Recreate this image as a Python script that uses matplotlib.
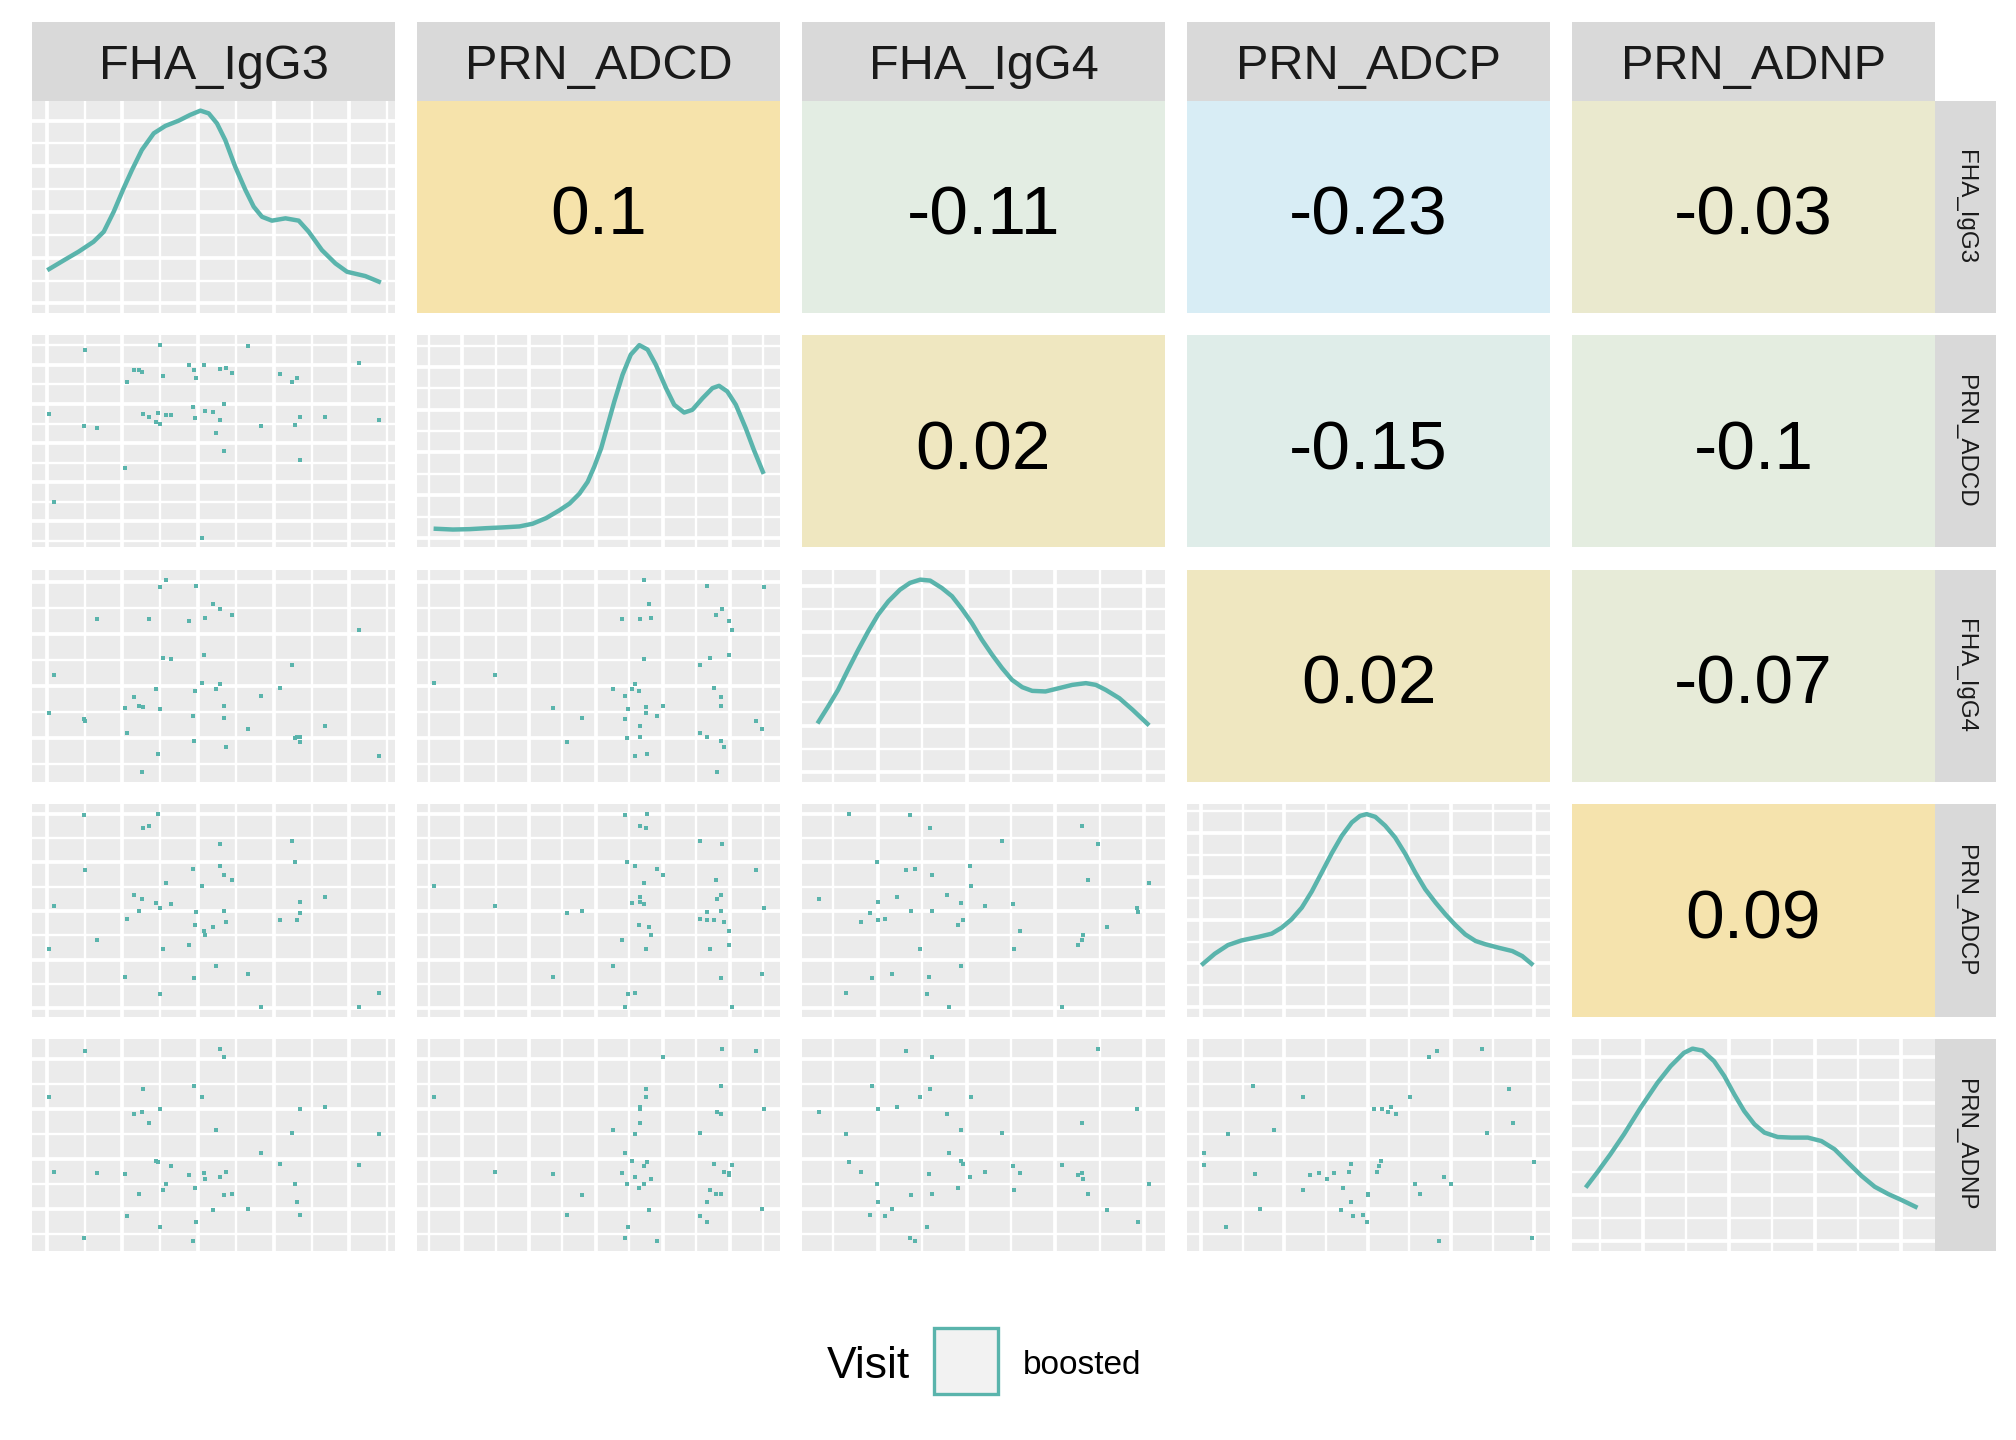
import numpy as np
import matplotlib
matplotlib.use("Agg")
import matplotlib.pyplot as plt
from matplotlib.colors import LinearSegmentedColormap, Normalize
from matplotlib.patches import Rectangle

plt.rcParams['font.family'] = ['Liberation Sans', 'DejaVu Sans']

variables = ['FHA_IgG3', 'PRN_ADCD', 'FHA_IgG4', 'PRN_ADCP', 'PRN_ADNP']

# sample values (rescaled units)
fha_igg3 = [0.0, 1.8, 10.6, 10.9, 14.8, 23.0, 23.6, 25.7, 27.2, 28.2, 28.4, 30.5,
            32.4, 33.0, 33.6, 33.6, 34.5, 35.4, 36.9, 42.3, 43.8, 44.1, 44.4, 44.7,
            46.3, 46.9, 47.2, 49.6, 50.5, 51.7, 51.7, 52.9, 52.9, 53.5, 55.3, 60.3,
            64.1, 69.8, 73.7, 74.4, 75.0, 75.9, 75.9, 83.4, 93.7, 99.7]
prn_adcd = [64.2, 18.5, 58.0, 97.7, 56.9, 36.2, 80.8, 87.0, 87.0, 86.0, 64.2, 62.6,
            60.0, 64.7, 100.0, 59.0, 83.9, 63.7, 63.7, 89.6, 67.8, 87.0, 62.1, 82.9,
            -0.2, 89.6, 65.7, 65.2, 54.3, 87.5, 61.1, 69.4, 45.0, 88.1, 85.5, 99.5,
            58.0, 84.9, 80.8, 58.5, 82.9, 62.6, 40.3, 62.6, 90.5, 61.1]
fha_igg4 = [31.0, 50.7, 27.9, 26.8, 79.8, 33.6, 20.6, 39.3, 34.6, 0.4, 34.1, 79.8,
            43.4, 9.7, 96.4, 33.1, 59.5, 100.0, 59.0, 78.7, 29.4, 16.4, 42.4, 96.9,
            46.5, 61.1, 80.3, 87.5, 43.4, 84.9, 46.0, 34.6, 28.4, 13.3, 81.8, 22.7,
            39.8, 43.9, 55.9, 18.0, 18.5, 18.5, 15.9, 24.2, 74.0, 8.7]
prn_adcp = [30.6, 52.9, 99.6, 71.1, 35.3, 16.1, 45.7, 58.6, 50.3, 56.1, 92.9, 93.9,
            54.0, 100.2, 51.9, 7.3, 30.6, 64.4, 53.5, 32.7, 71.6, 15.6, 42.6, 49.8,
            62.8, 40.0, 37.9, 42.0, 21.8, 84.6, 73.2, 68.5, 50.3, 44.6, 65.9, 17.7,
            0.5, 45.2, 86.1, 75.3, 45.2, 54.5, 48.8, 57.1, 0.5, 7.8]
prn_adnp = [75.6, 36.7, 2.4, 99.5, 36.2, 35.6, 13.9, 66.8, 25.3, 67.8, 79.8, 62.1,
            42.4, 41.9, 69.4, 8.1, 27.3, 30.5, 39.8, 35.1, 0.9, 81.3, 28.4, 10.7,
            75.6, 36.2, 33.1, 17.0, 58.5, 100.5, 34.1, 96.4, 24.7, 36.7, 25.3, 17.5,
            46.5, 40.8, 56.9, 30.5, 21.1, 69.4, 14.4, 70.4, 40.3, 56.4]
data = [fha_igg3, prn_adcd, fha_igg4, prn_adcp, prn_adnp]

# density curves on the diagonal (x in variable units, y relative to the peak)
dens1_x = [0.2, 5.1, 9.1, 13.6, 16.7, 19.7, 22.7, 25.2, 28.2, 31.8, 35.3, 39.3, 42.8, 45.9, 48.4,
           50.9, 53.4, 56.4, 59.5, 62.0, 64.5, 67.5, 71.6, 75.6, 78.6, 82.6, 86.7, 90.2, 95.7, 99.8]
dens1_y = [17.7, 22.7, 26.7, 31.8, 37.0, 47.3, 59.4, 68.8, 79.2, 87.8, 91.6, 94.3, 97.3, 99.5, 98.1,
           92.9, 84.3, 70.6, 58.5, 49.9, 44.7, 42.7, 43.9, 42.7, 37.0, 27.5, 20.6, 16.3, 14.1, 11.2]
dens2_x = [0.5, 5.7, 10.8, 15.8, 20.9, 25.9, 29.9, 34.0, 38.0, 41.1, 44.1, 46.6, 48.6, 50.7, 52.7, 54.7, 57.2,
           59.7, 62.3, 64.8, 67.3, 70.4, 72.9, 75.9, 78.4, 81.5, 84.5, 86.5, 89.0, 91.6, 94.6, 97.1, 99.8]
dens2_y = [4.7, 4.3, 4.5, 5.0, 5.4, 5.9, 7.3, 10.2, 14.2, 17.7, 22.8, 28.9, 36.7, 46.2, 58.3, 70.4, 84.2,
           94.6, 99.5, 97.2, 89.4, 77.3, 68.7, 64.7, 66.1, 72.1, 77.3, 78.5, 75.6, 68.7, 56.6, 45.3, 34.1]
dens3_x = [0.45, 3.3, 6.3, 9.3, 12.4, 15.4, 18.4, 21.5, 25.0, 28.0, 31.1, 34.1, 37.6, 40.7, 43.7, 46.7,
           49.7, 52.8, 55.8, 58.8, 61.9, 64.9, 68.9, 73.0, 77.0, 81.1, 84.1, 87.1, 91.2, 95.2, 99.7]
dens3_y = [26.3, 34.1, 42.7, 53.1, 63.5, 73.0, 81.7, 88.6, 94.6, 98.1, 99.8, 99.3, 95.5, 91.2, 84.6, 77.3,
           68.7, 60.9, 54.0, 47.9, 44.1, 42.2, 41.9, 43.6, 45.3, 46.2, 45.3, 42.7, 38.4, 32.4, 25.1]
dens4_x = [0.35, 3.9, 7.9, 12.0, 17.0, 21.1, 24.1, 27.1, 30.2, 33.2, 36.2, 39.2, 42.3, 45.3, 47.8, 49.8,
           52.4, 55.4, 58.4, 61.5, 64.5, 67.5, 70.6, 73.6, 76.6, 79.6, 82.7, 85.7, 89.7, 93.8, 96.8, 99.6]
dens4_y = [22.3, 27.5, 32.0, 34.4, 36.2, 37.9, 41.0, 45.3, 51.4, 59.7, 69.5, 79.4, 88.6, 95.5, 98.9, 99.8,
           98.4, 93.8, 87.7, 79.1, 69.5, 60.9, 54.0, 47.9, 42.4, 37.5, 34.1, 32.4, 30.6, 28.9, 26.3, 22.3]
dens5_x = [0.45, 3.5, 7.5, 11.6, 16.6, 21.7, 25.7, 29.7, 32.3, 35.3, 38.8, 41.9, 44.9, 47.9, 51.0, 54.0,
           58.0, 62.1, 67.1, 71.2, 75.2, 79.2, 83.3, 87.3, 91.4, 95.4, 99.6]
dens5_y = [28.9, 35.8, 45.3, 55.7, 69.5, 82.5, 91.2, 98.1, 100.3, 99.3, 93.8, 86.0, 76.5, 67.8, 60.9, 56.6,
           54.3, 54.0, 54.0, 52.2, 47.9, 41.0, 34.1, 28.4, 24.6, 21.5, 18.0]
dens_x = [dens1_x, dens2_x, dens3_x, dens4_x, dens5_x]
dens_y = [dens1_y, dens2_y, dens3_y, dens4_y, dens5_y]

# correlations shown in the upper triangle
corr_pairs = [(0, 1), (0, 2), (0, 3), (0, 4), (1, 2), (1, 3), (1, 4), (2, 3), (2, 4), (3, 4)]
corr_values = [0.1, -0.11, -0.23, -0.03, 0.02, -0.15, -0.1, 0.02, -0.07, 0.09]

legend_title = 'Visit'
legend_label = 'boosted'

# grid layout (major break start/step per variable, and for each density axis)
var_grid = [(-0.5, 22.85), (8.5, 20.3), (18.3, 26.8), (-0.3, 25.2), (17.4, 25.9)]
dens_grid = [23.6, 22.05, 24.15, 22.5, 24.0]

teal = '#5AB4AC'
panel_bg = '#EBEBEB'
strip_bg = '#D9D9D9'
cmap = LinearSegmentedColormap.from_list(
    'corr', [(0.0, '#D8EDF5'), (0.3636, '#E3EDE3'), (1.0, '#F6E3AB')])
norm = Normalize(vmin=-0.23, vmax=0.1)

W, H = 2016, 1440
fig = plt.figure(figsize=(W / 200, H / 200), dpi=200)


def box(x, y, w, h):
    return [x / W, 1 - (y + h) / H, w / W, h / H]


def limits(vals):
    lo, hi = min(vals), max(vals)
    pad = 0.05 * (hi - lo)
    return lo - pad, hi + pad


def ticks(lo, hi, start, step):
    k = np.arange(np.floor((lo - start) / step) - 1, np.ceil((hi - start) / step) + 2)
    major = start + step * k
    minor = major + step / 2
    return major[(major >= lo) & (major <= hi)], minor[(minor >= lo) & (minor <= hi)]


def style_grid(ax, xlim, ylim, xg, yg):
    ax.set_facecolor(panel_bg)
    ax.set_xlim(*xlim)
    ax.set_ylim(*ylim)
    mx, nx = ticks(*xlim, *xg)
    my, ny = ticks(*ylim, *yg)
    ax.set_xticks(mx)
    ax.set_xticks(nx, minor=True)
    ax.set_yticks(my)
    ax.set_yticks(ny, minor=True)
    ax.tick_params(which='both', length=0, labelbottom=False, labelleft=False)
    ax.grid(which='major', color='white', lw=1.35)
    ax.grid(which='minor', color='white', lw=0.85)
    ax.set_axisbelow(True)


left0, pw, step_x = 32, 363, 385
top0, ph, step_y = 101, 212, 234.5
n = len(variables)

for i in range(n):
    for j in range(n):
        ax = fig.add_axes(box(left0 + j * step_x, top0 + i * step_y, pw, ph))
        for s in ax.spines.values():
            s.set_visible(False)
        xlim = limits(data[j])
        if i == j:
            ylim = limits([0] + dens_y[i])
            style_grid(ax, xlim, ylim, var_grid[j], (0, dens_grid[i]))
            ax.plot(dens_x[i], dens_y[i], color=teal, lw=1.6, solid_joinstyle='round')
        elif i > j:
            ylim = limits(data[i])
            style_grid(ax, xlim, ylim, var_grid[j], var_grid[i])
            ax.plot(data[j], data[i], 's', color=teal, ms=1.6, mew=0)
        else:
            v = corr_values[corr_pairs.index((i, j))]
            ax.set_facecolor(cmap(norm(v)))
            ax.set_xticks([])
            ax.set_yticks([])
            ax.text(0.5, 0.455, f'{v:g}', transform=ax.transAxes, ha='center',
                    va='center', fontsize=25, color='black')

# top strips
for j, name in enumerate(variables):
    sa = fig.add_axes(box(left0 + j * step_x, 22, pw, 79))
    sa.set_facecolor(strip_bg)
    sa.set_xticks([])
    sa.set_yticks([])
    for s in sa.spines.values():
        s.set_visible(False)
    sa.text(0.5, 0.44, name, transform=sa.transAxes, ha='center', va='center',
            fontsize=17.5, color='#1A1A1A')

# right strips
rx = left0 + (n - 1) * step_x + pw
for i, name in enumerate(variables):
    sa = fig.add_axes(box(rx, top0 + i * step_y, 61, ph))
    sa.set_facecolor(strip_bg)
    sa.set_xticks([])
    sa.set_yticks([])
    for s in sa.spines.values():
        s.set_visible(False)
    sa.text(0.5, 0.5, name, transform=sa.transAxes, ha='center', va='center',
            rotation=-90, fontsize=8.7, color='#1A1A1A')

# legend
fig.text(827 / W, 1 - 1366 / H, legend_title, ha='left', va='center', fontsize=16, color='black')
key = Rectangle((934 / W, 1 - 1394 / H), 64 / W, 66 / H, transform=fig.transFigure,
                facecolor='#F2F2F2', edgecolor=teal, lw=1.2)
fig.add_artist(key)
fig.text(1023 / W, 1 - 1366 / H, legend_label, ha='left', va='center', fontsize=12, color='black')

fig.savefig('out.png', dpi=200, facecolor='white')
